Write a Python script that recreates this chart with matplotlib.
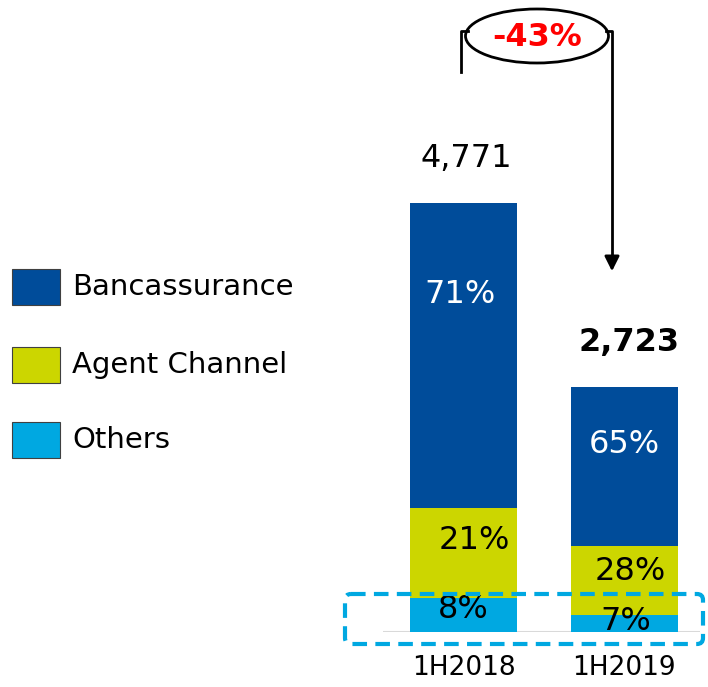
import matplotlib

matplotlib.use('Agg')
import matplotlib.pyplot as plt
from matplotlib.patches import Ellipse, Rectangle, FancyBboxPatch

periods = ["1H2018", "1H2019"]
totals = [4771, 2723]
total_labels = ["4,771", "2,723"]
channels = ["Others", "Agent Channel", "Bancassurance"]
shares = {
    "Others": [8, 7],
    "Agent Channel": [21, 28],
    "Bancassurance": [71, 65],
}
change_label = "-43%"

colors = {
    "Bancassurance": "#004C9A",
    "Agent Channel": "#CCD600",
    "Others": "#00A8E1",
}
text_colors = {"Bancassurance": "white", "Agent Channel": "black", "Others": "black"}
# where the % labels sit inside each segment (0 = bottom, 1 = top)
label_frac = {"Others": [0.65, 0.6], "Agent Channel": [0.64, 0.63], "Bancassurance": [0.7, 0.64]}
label_dx = {"Others": [0.0, 0.01], "Agent Channel": [0.07, 0.04], "Bancassurance": [-0.02, 0.0]}

W, H = 708, 687
fig = plt.figure(figsize=(W / 100, H / 100), dpi=100)

# main bar axes, placed in pixel terms
x0, x1, y_base = 383, 700, 632
ax = fig.add_axes([x0 / W, (H - y_base) / H, (x1 - x0) / W, y_base / H])
px_per_unit = 429 / totals[0]
ax.set_ylim(0, y_base / px_per_unit)
step = 160.5
ax.set_xlim(-(463.5 - x0) / step, 1 + (x1 - 624) / step)
ax.axis('off')

xs = range(len(periods))
bottoms = [0] * len(periods)
for ch in channels:
    vals = [t * s / 100 for t, s in zip(totals, shares[ch])]
    ax.bar(xs, vals, width=107 / step, bottom=bottoms, color=colors[ch], zorder=2)
    for i in xs:
        y = bottoms[i] + vals[i] * label_frac[ch][i]
        ax.text(i + label_dx[ch][i], y, f"{shares[ch][i]}%", ha='center', va='center',
                fontsize=23, color=text_colors[ch], zorder=3)
    bottoms = [b + v for b, v in zip(bottoms, vals)]

ax.axhline(0, color='#D9D9D9', lw=1.5, zorder=1)
ax.text(0.02, totals[0] + 500, total_labels[0], ha='center', va='center', fontsize=23)
ax.text(1.03, totals[1] + 500, total_labels[1], ha='center', va='center', fontsize=23,
        fontweight='bold')
for i, p in enumerate(periods):
    ax.text(i, -400, p, ha='center', va='center', fontsize=19)

# overlay in pixel coordinates for legend and annotations
ov = fig.add_axes([0, 0, 1, 1], zorder=5)
ov.set_xlim(0, W)
ov.set_ylim(H, 0)
ov.axis('off')
ov.patch.set_alpha(0)

leg_y = [287, 365, 440]
for ch, y in zip(["Bancassurance", "Agent Channel", "Others"], leg_y):
    ov.add_patch(Rectangle((12, y - 18), 48, 36, facecolor=colors[ch],
                           edgecolor='#404040', lw=0.8))
    ov.text(72, y, ch, va='center', ha='left', fontsize=21)

# dashed highlight box
ov.add_patch(FancyBboxPatch((345, 594), 358, 50, boxstyle="round,pad=0,rounding_size=6",
                            fill=False, edgecolor='#00A8E1', lw=3, linestyle=(0, (3.5, 2))))

# change bracket and arrow
ov.plot([461, 461, 468], [72, 31, 31], color='black', lw=2)
ov.plot([606, 612, 612], [31, 31, 258], color='black', lw=2)
ov.annotate("", xy=(612, 274), xytext=(612, 255),
            arrowprops=dict(arrowstyle='-|>', color='black', lw=2, mutation_scale=22))
ov.add_patch(Ellipse((537, 36), 143, 54, facecolor='white', edgecolor='black', lw=2))
ov.text(537, 38, change_label, ha='center', va='center', fontsize=23, fontweight='bold',
        color='#FF0000')

fig.savefig('out.png', dpi=100)
